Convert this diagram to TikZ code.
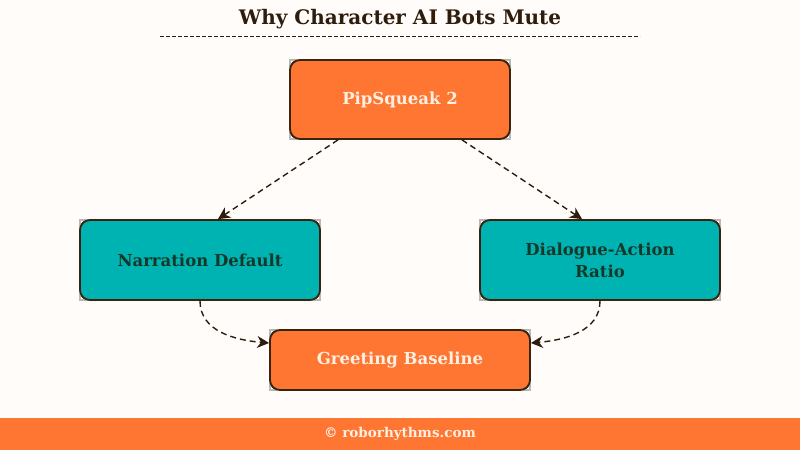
\documentclass[tikz,border=0pt]{standalone}
\usepackage{fontspec}
\setmainfont{DejaVu Serif}
\usetikzlibrary{arrows.meta,calc}
\definecolor{bgc}{HTML}{FFFCFA}
\definecolor{orng}{HTML}{FF7633}
\definecolor{teal2}{HTML}{00B3B3}
\definecolor{brd}{HTML}{3A2410}
\definecolor{ttl}{HTML}{2E1C0C}
\definecolor{lite}{HTML}{FFF0E2}
\definecolor{dk}{HTML}{163828}
\tikzset{
  box/.style={rectangle, rounded corners=10pt, draw=brd, line width=1.8pt, inner sep=0pt, align=center, font=\bfseries\fontsize{16.5}{22}\selectfont},
  obox/.style={box, fill=orng, text=lite},
  tbox/.style={box, fill=teal2, text=dk},
  arr/.style={draw=ttl, line width=1.4pt, dash pattern=on 6pt off 4pt, -{Stealth[length=12pt,width=12pt]}},
}
\begin{document}
\begin{tikzpicture}[x=1pt,y=-1pt]
\fill[bgc] (0,0) rectangle (800,450);
\useasboundingbox (0,0) rectangle (800,450);
\node[text=ttl, font=\bfseries\fontsize{20}{24}\selectfont] (title) at (400,19) {Why Character AI Bots Mute};
\draw[ttl, line width=0.9pt, dash pattern=on 3.5pt off 2.5pt] (160,36) -- (640,36);
\node[obox, minimum width=220pt, minimum height=79pt] (pip) at (400,99.5) {PipSqueak 2};
\node[tbox, minimum width=240pt, minimum height=80pt] (narr) at (200,260) {Narration Default};
\node[tbox, minimum width=240pt, minimum height=80pt] (dial) at (600,260) {Dialogue-Action\\Ratio};
\node[obox, minimum width=260pt, minimum height=60pt] (greet) at (400,360) {Greeting Baseline};
\foreach \n in {pip,narr,dial,greet}{
  \draw[gray!55, line width=1.4pt] ($(\n.south west)+(0.9,-0.9)$) rectangle ($(\n.north east)+(-0.9,0.9)$);
}
\node[obox, minimum width=220pt, minimum height=79pt] at (400,99.5) {PipSqueak 2};
\node[tbox, minimum width=240pt, minimum height=80pt] at (200,260) {Narration Default};
\node[tbox, minimum width=240pt, minimum height=80pt] at (600,260) {Dialogue-Action\\Ratio};
\node[obox, minimum width=260pt, minimum height=60pt] at (400,360) {Greeting Baseline};
\draw[arr] ($(pip.south)+(-62,0)$) -- ($(narr.north)+(18,0)$);
\draw[arr] ($(pip.south)+(62,0)$) -- ($(dial.north)+(-18,0)$);
\draw[arr] (narr.south) .. controls ($(narr.south)+(0,30)$) and ($(greet.west)+(-35,-20)$) .. ($(greet.west)+(0,-17)$);
\draw[arr] (dial.south) .. controls ($(dial.south)+(0,30)$) and ($(greet.east)+(35,-20)$) .. ($(greet.east)+(0,-17)$);
\fill[orng] (0,418) rectangle (800,450);
\node[text=lite, font=\bfseries\fontsize{13.5}{16}\selectfont] (foot) at (400,434) {© roborhythms.com};
\end{tikzpicture}
\end{document}
